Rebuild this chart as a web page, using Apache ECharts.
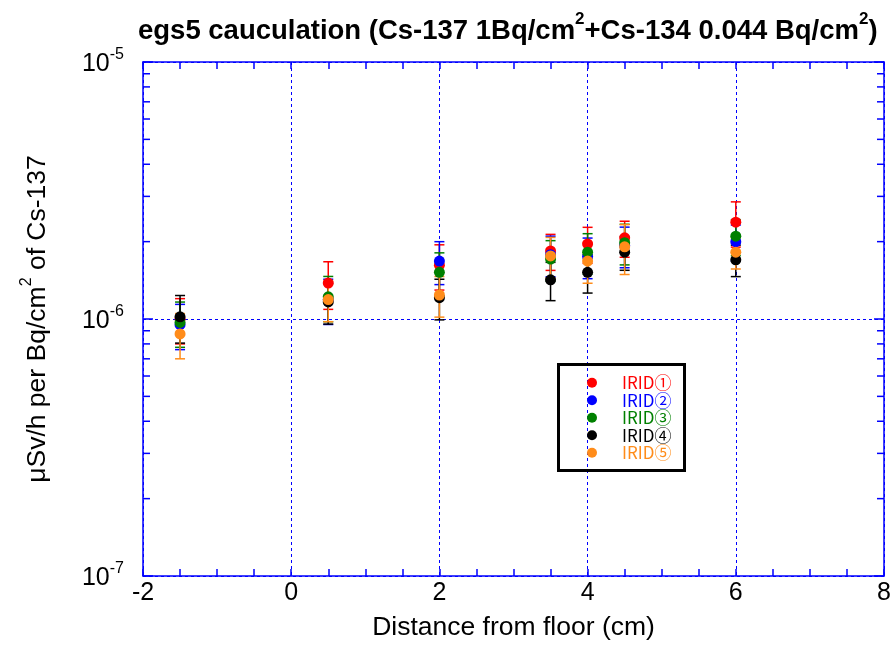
<!DOCTYPE html>
<html><head><meta charset="utf-8">
<script src="https://cdn.jsdelivr.net/npm/echarts@6/dist/echarts.min.js"></script>
<style>html,body{margin:0;padding:0;background:#fff}#c{width:896px;height:668px}</style>
</head><body><div id="c"></div>
<script>
// ---- data ----
const distances = [-1.5, 0.5, 2, 3.5, 4, 4.5, 6];
const seriesNames = ['IRID①', 'IRID②', 'IRID③', 'IRID④', 'IRID⑤'];
const seriesColors = ['#ff0000', '#0000ff', '#008000', '#000000', '#ff8c1a'];
const irid1 = [1.00e-6, 1.38e-6, 1.62e-6, 1.84e-6, 1.96e-6, 2.07e-6, 2.38e-6];
const irid2 = [0.95e-6, 1.19e-6, 1.68e-6, 1.78e-6, 1.75e-6, 1.93e-6, 2.00e-6];
const irid3 = [0.97e-6, 1.22e-6, 1.52e-6, 1.71e-6, 1.82e-6, 1.98e-6, 2.10e-6];
const irid4 = [1.02e-6, 1.165e-6, 1.21e-6, 1.42e-6, 1.52e-6, 1.82e-6, 1.70e-6];
const irid5 = [0.875e-6, 1.19e-6, 1.24e-6, 1.76e-6, 1.68e-6, 1.91e-6, 1.82e-6];
// relative uncertainty (fraction) per point
const err1 = [0.20, 0.21, 0.20, 0.16, 0.16, 0.16, 0.20];
const err2 = [0.20, 0.20, 0.19, 0.18, 0.18, 0.18, 0.16];
const err3 = [0.20, 0.20, 0.19, 0.18, 0.18, 0.18, 0.16];
const err4 = [0.21, 0.18, 0.18, 0.17, 0.17, 0.15, 0.14];
const err5 = [0.20, 0.18, 0.18, 0.18, 0.18, 0.22, 0.14];
const xTicks = [-2, 0, 2, 4, 6, 8];
const yMinorTickValues = [2e-7,3e-7,4e-7,5e-7,6e-7,7e-7,8e-7,9e-7,2e-6,3e-6,4e-6,5e-6,6e-6,7e-6,8e-6,9e-6];

const values = [irid1, irid2, irid3, irid4, irid5];
const errs = [err1, err2, err3, err4, err5];
const AX = '#0000ff';
const FONT = 'Liberation Sans, Arial, sans-serif';

const chart = echarts.init(document.getElementById('c'), null, {renderer: 'canvas'});

function errRender(color) {
  return function (params, api) {
    const x = api.value(0), lo = api.value(1), hi = api.value(2);
    const p1 = api.coord([x, hi]), p2 = api.coord([x, lo]);
    const hw = 5;
    const st = {stroke: color, lineWidth: 1.5};
    return {type: 'group', children: [
      {type: 'line', shape: {x1: p1[0], y1: p1[1], x2: p2[0], y2: p2[1]}, style: st},
      {type: 'line', shape: {x1: p1[0] - hw, y1: p1[1], x2: p1[0] + hw, y2: p1[1]}, style: st},
      {type: 'line', shape: {x1: p2[0] - hw, y1: p2[1], x2: p2[0] + hw, y2: p2[1]}, style: st}
    ]};
  };
}

const series = [];
values.forEach((vals, i) => {
  series.push({
    name: 'err' + i, type: 'custom', z: 2, silent: true,
    renderItem: errRender(seriesColors[i]),
    encode: {x: 0, y: [1, 2]},
    data: distances.map((d, j) => [d, vals[j] * (1 - errs[i][j]), vals[j] * (1 + errs[i][j])])
  });
});
values.forEach((vals, i) => {
  series.push({
    name: seriesNames[i], type: 'scatter', z: 3, symbol: 'circle', symbolSize: 11,
    itemStyle: {color: seriesColors[i], opacity: 1},
    data: distances.map((d, j) => [d, vals[j]])
  });
});
// minor log ticks on left and right edges
series.push({
  name: 'minorTicks', type: 'custom', z: 4, silent: true,
  renderItem: function (params, api) {
    const v = api.value(1);
    const l = api.coord([-2, v]), r = api.coord([8, v]);
    const st = {stroke: AX, lineWidth: 1.5};
    return {type: 'group', children: [
      {type: 'line', shape: {x1: l[0], y1: l[1], x2: l[0] + 7, y2: l[1]}, style: st},
      {type: 'line', shape: {x1: r[0], y1: r[1], x2: r[0] - 7, y2: r[1]}, style: st}
    ]};
  },
  encode: {x: 0, y: 1},
  data: yMinorTickValues.map(v => [-2, v])
});

const supLabel = v => {
  const e = Math.round(Math.log10(v));
  return '{b|10}{s|' + e + '}';
};

const gridDash = {color: AX, type: [3, 3], width: 1};

chart.setOption({
  animation: false,
  backgroundColor: '#fff',
  title: {
    text: '{b|egs5 cauculation (Cs-137 1Bq/cm}{s|2}{b|+Cs-134 0.044 Bq/cm}{s|2}{b|)}',
    left: 133, top: 6,
    textStyle: {
      rich: {
        b: {fontFamily: FONT, fontWeight: 'bold', fontSize: 27.5, color: '#000', lineHeight: 34, verticalAlign: 'bottom'},
        s: {fontFamily: FONT, fontWeight: 'bold', fontSize: 17, color: '#000', lineHeight: 34, verticalAlign: 'top'}
      }
    }
  },
  grid: {left: 143, right: 12, top: 62, bottom: 92, containLabel: false},
  legend: {
    orient: 'vertical', left: 587, top: 374, padding: 0, itemGap: 0,
    itemWidth: 50, itemHeight: 10, icon: 'circle',
    data: seriesNames.map((n, i) => ({name: n, textStyle: {color: seriesColors[i]}})),
    textStyle: {fontFamily: 'Noto Sans CJK JP', fontSize: 17, lineHeight: 17.5}
  },
  graphic: [{
    type: 'rect', left: 556, top: 362, z: 100,
    shape: {width: 126, height: 106},
    style: {fill: 'none', stroke: '#000', lineWidth: 3}
  }],
  xAxis: [{
    type: 'value', min: -2, max: 8, interval: 2, position: 'bottom',
    name: 'Distance from floor (cm)', nameLocation: 'middle', nameGap: 38,
    nameTextStyle: {fontFamily: FONT, fontSize: 26.5, color: '#000'},
    axisLine: {show: true, onZero: false, lineStyle: {color: AX, width: 1.5}},
    axisTick: {show: true, inside: true, length: 7, lineStyle: {color: AX, width: 1.5}},
    minorTick: {show: true, splitNumber: 4, length: 7, lineStyle: {color: AX, width: 1.5}},
    axisLabel: {fontFamily: FONT, fontSize: 25, color: '#000', margin: 5, formatter: v => xTicks.includes(v) ? String(v) : ''},
    splitLine: {show: true, lineStyle: gridDash},
    minorSplitLine: {show: false}
  }, {
    type: 'value', min: -2, max: 8, interval: 2, position: 'top',
    axisLine: {show: true, onZero: false, lineStyle: {color: AX, width: 1.5}},
    axisTick: {show: true, inside: true, length: 7, lineStyle: {color: AX, width: 1.5}},
    minorTick: {show: true, splitNumber: 4, length: 7, lineStyle: {color: AX, width: 1.5}},
    axisLabel: {show: false}, splitLine: {show: false}, minorSplitLine: {show: false}
  }],
  yAxis: [{
    type: 'log', logBase: 10, min: 1e-7, max: 1e-5, position: 'left',
    name: '{a|μSv/h per Bq/cm}{s|2}{a| of Cs-137}', nameLocation: 'middle', nameGap: 92,
    nameRotate: 90,
    nameTextStyle: {rich: {
      a: {fontFamily: FONT, fontSize: 26.5, color: '#000', lineHeight: 32, verticalAlign: 'bottom'},
      s: {fontFamily: FONT, fontSize: 16, color: '#000', lineHeight: 32, verticalAlign: 'top'}
    }},
    axisLine: {show: true, onZero: false, lineStyle: {color: AX, width: 1.5}},
    axisTick: {show: true, inside: true, length: 10, lineStyle: {color: AX, width: 1.5}},
    axisLabel: {formatter: supLabel, margin: 19, rich: {
      b: {fontFamily: FONT, fontSize: 25, color: '#000', lineHeight: 30, verticalAlign: 'bottom'},
      s: {fontFamily: FONT, fontSize: 16, color: '#000', lineHeight: 30, verticalAlign: 'top'}
    }},
    splitLine: {show: true, lineStyle: gridDash},
    minorSplitLine: {show: false}
  }, {
    type: 'log', logBase: 10, min: 1e-7, max: 1e-5, position: 'right',
    axisLine: {show: true, onZero: false, lineStyle: {color: AX, width: 1.5}},
    axisTick: {show: true, inside: true, length: 10, lineStyle: {color: AX, width: 1.5}},
    axisLabel: {show: false}, splitLine: {show: false}, minorSplitLine: {show: false}
  }],
  series: series
});
</script></body></html>
